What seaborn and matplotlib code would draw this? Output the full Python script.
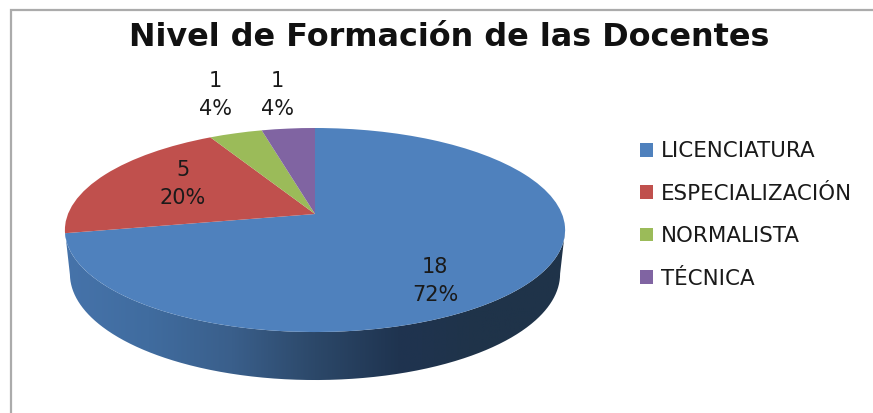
import numpy as np
import matplotlib
matplotlib.use("Agg")
import matplotlib.pyplot as plt
import matplotlib.transforms as mtrans
from matplotlib.colors import LinearSegmentedColormap
from matplotlib.patches import Patch, PathPatch
from matplotlib.path import Path
import seaborn as sns

title = "Nivel de Formación de las Docentes"
categories = ["LICENCIATURA", "ESPECIALIZACIÓN", "NORMALISTA", "TÉCNICA"]
values = [18, 5, 1, 1]
colors = ["#4F81BD", "#C0504D", "#9BBB59", "#8064A2"]
side_stops = ["#4673AA", "#406C9F", "#3A5F8B", "#2C4869", "#1F3450", "#1F3349", "#1F3349"]

W, H = 873, 413
CX, CY, GX, FY, PERSP = 315.0, 214.0, 247.0, 99.5, 0.157


def project(u, v):
    den = 1 + PERSP * v
    return CX + GX * u / den, CY - FY * v / den


class Perspective(mtrans.Transform):
    input_dims = 2
    output_dims = 2
    is_separable = False
    has_inverse = False

    def transform_non_affine(self, xy):
        xy = np.asarray(xy, dtype=float)
        x, y = project(xy[:, 0], xy[:, 1])
        return np.column_stack([x, y])


sns.set_theme(style="white")
plt.rcParams["font.family"] = ["DejaVu Sans"]

fig = plt.figure(figsize=(W / 100, H / 100), dpi=100)
ax = fig.add_axes([0, 0, 1, 1])

wedges, _ = ax.pie(values, colors=colors, startangle=90, counterclock=False,
                   wedgeprops=dict(linewidth=0))
ax.set_aspect("auto")

persp = Perspective()
for w in wedges:
    w.set_transform(persp + ax.transData)
    w.set_clip_on(False)
    w.set_zorder(3)

# side wall of the disc: top rim (front half) + lower rim
t = np.linspace(0, 2 * np.pi, 1441)
u, v = np.sin(t), np.cos(t)
X, Y = project(u, v)
left, right = np.argmin(X), np.argmax(X)
front = np.arange(right, left + 1)
depth = 43 + 5 * (-v[front])
xb = CX + (X[front] - CX) * 0.98
yb = Y[front] + depth
wall = np.vstack([np.column_stack([X[front], Y[front]]),
                  np.column_stack([xb, yb])[::-1]])
wall_patch = PathPatch(Path(np.vstack([wall, wall[0]])), transform=ax.transData,
                       facecolor="none", edgecolor="none")
ax.add_patch(wall_patch)
cmap = LinearSegmentedColormap.from_list("wall", side_stops)
im = ax.imshow(np.linspace(0, 1, 256)[None, :], cmap=cmap, aspect="auto",
               extent=[65, 565, 395, 225], zorder=2)
im.set_clip_path(wall_patch)

ax.set_xlim(0, W)
ax.set_ylim(H, 0)
ax.set_axis_off()

# frame of the chart area
ax.plot([11, 11, W], [H, 10, 10], color="#ABABAB", lw=1.6, solid_joinstyle="miter", zorder=1)

ax.text(449, 37, title, ha="center", va="center", fontsize=22.95, fontweight="bold",
        color="#111111")

total = sum(values)
label_xy = [(435, 281), (183, 184), (215, 95), (277, 95)]
for (lx, ly), val in zip(label_xy, values):
    ax.text(lx, ly, f"{val}\n{val / total:.0%}", ha="center", va="center",
            fontsize=15, color="#1A1A1A", linespacing=1.45, zorder=5)

handles = [Patch(facecolor=c, edgecolor="none") for c in colors]
ax.legend(handles, categories, loc="center left", bbox_to_anchor=(640 / W, 1 - 215 / H),
          bbox_transform=fig.transFigure, frameon=False, fontsize=15.4,
          handlelength=0.6, handleheight=0.6, handletextpad=0.38,
          labelspacing=1.05, borderpad=0, borderaxespad=0, labelcolor="#1A1A1A")

fig.savefig("out.png", dpi=100)
